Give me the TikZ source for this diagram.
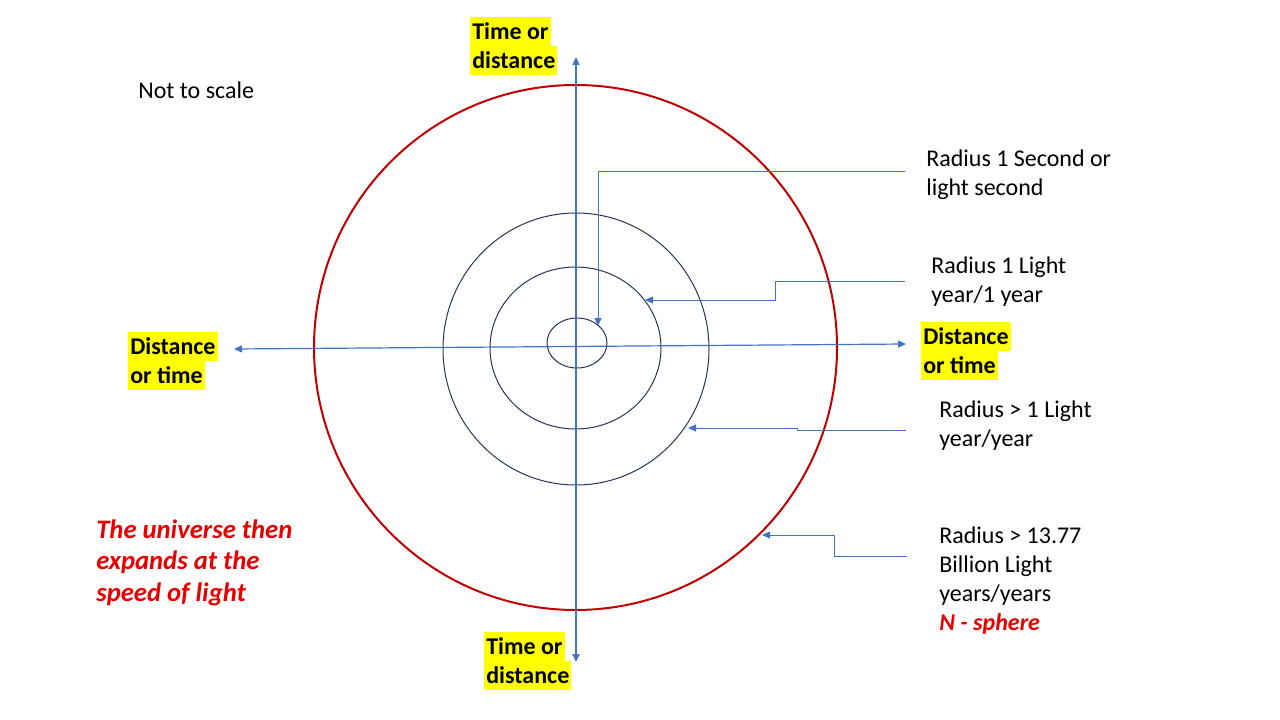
\documentclass[tikz,border=0pt]{standalone}
\usepackage{fontspec}
\setmainfont{Carlito}
\usetikzlibrary{arrows.meta}

\definecolor{axisblue}{RGB}{68,114,196}
\definecolor{ringred}{RGB}{192,0,0}
\definecolor{ringnavy}{RGB}{40,52,82}
\definecolor{hlyellow}{RGB}{255,255,0}
\definecolor{notered}{RGB}{232,0,0}
\newcommand{\hl}[1]{{\setlength{\fboxsep}{0pt}\colorbox{hlyellow}{\rule[-5.25pt]{0pt}{21.75pt}\hspace{1.5pt}#1\hspace{1.5pt}}}}

\begin{document}
\begin{tikzpicture}[x=0.75pt, y=-0.75pt,
    axis/.style={axisblue, line width=0.9pt, {Triangle[length=6pt,width=5.25pt]}-{Triangle[length=6pt,width=5.25pt]}},
    leader/.style={axisblue, line width=0.75pt, -{Triangle[length=6pt,width=5.25pt]}},
    ring/.style={ringnavy, line width=0.75pt},
    label/.style={anchor=base west, inner sep=0pt, align=left, font=\fontsize{18}{21.75}\selectfont},
    axislabel/.style={anchor=north west, inner sep=0pt, align=left, font=\fontsize{18}{21.75}\selectfont\bfseries}]
    \useasboundingbox (0,0) rectangle (1280,720);

    % 円を描く
    \draw[ringred, line width=1.5pt] (575.5,347.5) ellipse [x radius=261.5, y radius=262.5];
    \draw[ring] (576,349) ellipse [x radius=133, y radius=136];
    \draw[ring] (575.5,348) ellipse [x radius=85.5, y radius=81];
    \draw[ring] (577,343) ellipse [x radius=30, y radius=25];

    % 軸
    \coordinate (xl) at (234,349);
    \coordinate (xr) at (906,344);
    \coordinate (yt) at (576,57);
    \coordinate (yb) at (576,662);
    \draw[axis] (xl) -- (xr);
    \draw[axis] (yb) -- (yt);

    \node[axislabel] (top) at (470,17) {\hl{Time or}\\\hl{distance}};
    \node[axislabel] (bottom) at (484,632) {\hl{Time or}\\\hl{distance}};
    \node[axislabel] (left) at (128,332) {\hl{Distance}\\\hl{or time}};
    \node[axislabel] (right) at (921,322) {\hl{Distance}\\\hl{or time}};

    % 文字 (base = 最後の行)
    \node[label] (scale) at (138,99) {Not to scale};
    \node[label, font=\fontsize{20}{23.5}\selectfont\bfseries\itshape, text=notered] (expand) at (96,601)
        {The universe then\\expands at the\\speed of light};

    \node[label] (r1) at (926,196) {Radius 1 Second or\\light second};
    \node[label] (r2) at (931,302) {Radius 1 Light\\year/1 year};
    \node[label] (r3) at (939,446) {Radius > 1 Light\\year/year};
    \node[label] (r4) at (939,630) {Radius > 13.77\\Billion Light\\years/years\\{\color{notered}\bfseries\itshape N - sphere}};

    % 引き出し線
    \coordinate (p1) at (905,172);
    \coordinate (q1) at (598,326);
    \coordinate (p2) at (905,281);
    \coordinate (q2) at (645,300);
    \coordinate (p3) at (906,430);
    \coordinate (q3) at (688,428);
    \coordinate (p4) at (907,556);
    \coordinate (q4) at (762,535);
    \draw[leader] (p1) -| (q1);
    \draw[leader] (p2) -- ++(-130,0) |- (q2);
    \draw[leader] (p3) -- ++(-109,0) |- (q3);
    \draw[leader] (p4) -- ++(-73,0) |- (q4);
\end{tikzpicture}
\end{document}
